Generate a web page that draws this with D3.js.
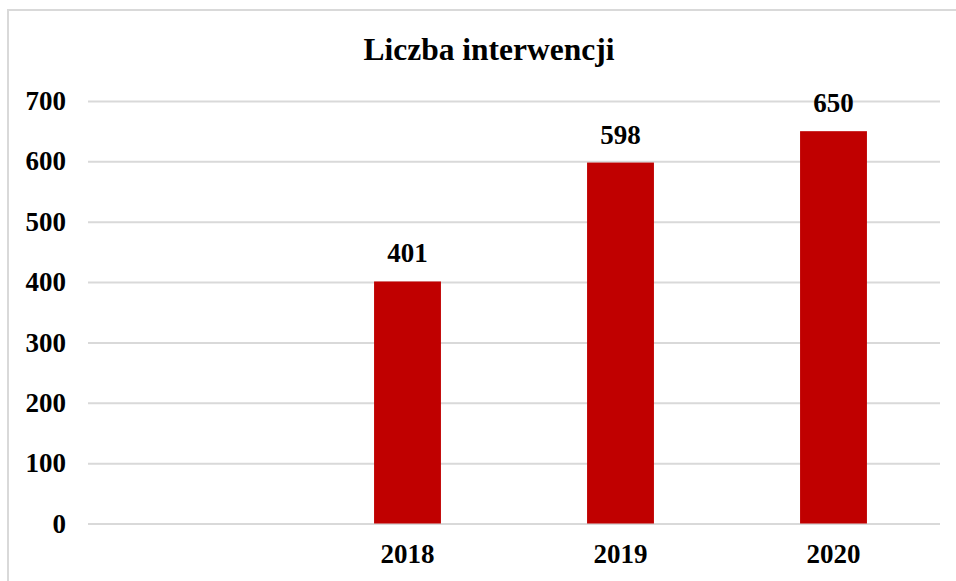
<!DOCTYPE html>
<html>
<head>
<meta charset="utf-8">
<script src="https://cdn.jsdelivr.net/npm/d3@7"></script>
<style>
  html, body { margin: 0; padding: 0; background: #fff; }
  svg { display: block; }
</style>
</head>
<body>
<svg id="chart" width="956" height="581"></svg>
<script>
// Chart data
const title = "Liczba interwencji";
const categories = ["", "2018", "2019", "2020"];
const values = [null, 401, 598, 650];
const yTicks = [0, 100, 200, 300, 400, 500, 600, 700];

const W = 956, H = 581;
const margin = { left: 88, right: 16, top: 101, bottom: 57 };
const font = "'Liberation Serif', 'Times New Roman', serif";
const gridColor = "#d9d9d9";
const barColor = "#c00000";

const svg = d3.select("#chart");

// Outer frame of the chart area
svg.append("rect")
  .attr("x", 8).attr("y", 10)
  .attr("width", W + 20).attr("height", H + 20)
  .attr("fill", "none")
  .attr("stroke", gridColor)
  .attr("stroke-width", 2);

const x = d3.scaleBand()
  .domain(categories.map((c, i) => i))
  .range([margin.left, W - margin.right])
  .paddingInner(0.686)
  .paddingOuter(0.343);

const y = d3.scaleLinear()
  .domain([0, 700])
  .range([H - margin.bottom - 0.5, margin.top]);

// Horizontal gridlines and y tick labels
const yAxis = d3.axisLeft(y)
  .tickValues(yTicks)
  .tickSize(-(W - margin.right - margin.left))
  .tickPadding(22)
  .tickFormat(d3.format("d"));

const gy = svg.append("g")
  .attr("transform", `translate(${margin.left},0)`)
  .call(yAxis);
gy.select(".domain").remove();
gy.selectAll(".tick line")
  .attr("stroke", gridColor)
  .attr("stroke-width", 2);
gy.selectAll(".tick text")
  .attr("font-family", font)
  .attr("font-weight", "bold")
  .attr("font-size", 27)
  .attr("fill", "#000");

// Bars
const data = categories.map((c, i) => ({ i, c, v: values[i] })).filter(d => d.v != null);

svg.append("g").selectAll("rect")
  .data(data)
  .join("rect")
  .attr("x", d => x(d.i))
  .attr("width", x.bandwidth())
  .attr("y", d => y(d.v))
  .attr("height", d => y(0) - y(d.v))
  .attr("fill", barColor);

// Value labels above bars
svg.append("g").selectAll("text")
  .data(data)
  .join("text")
  .attr("x", d => x(d.i) + x.bandwidth() / 2)
  .attr("y", d => y(d.v) - 19)
  .attr("text-anchor", "middle")
  .attr("font-family", font)
  .attr("font-weight", "bold")
  .attr("font-size", 27)
  .attr("fill", "#000")
  .text(d => d.v);

// Category labels
const xAxis = d3.axisBottom(x)
  .tickSize(0)
  .tickPadding(0)
  .tickFormat(i => categories[i]);
const gx = svg.append("g")
  .attr("transform", `translate(0,${H - margin.bottom})`)
  .call(xAxis);
gx.select(".domain").remove();
gx.selectAll(".tick text")
  .attr("dy", null)
  .attr("y", 39)
  .attr("font-family", font)
  .attr("font-weight", "bold")
  .attr("font-size", 27)
  .attr("fill", "#000");

// Title
svg.append("text")
  .attr("x", 489)
  .attr("y", 60)
  .attr("text-anchor", "middle")
  .attr("font-family", font)
  .attr("font-weight", "bold")
  .attr("font-size", 31.5)
  .attr("fill", "#000")
  .text(title);
</script>
</body>
</html>
